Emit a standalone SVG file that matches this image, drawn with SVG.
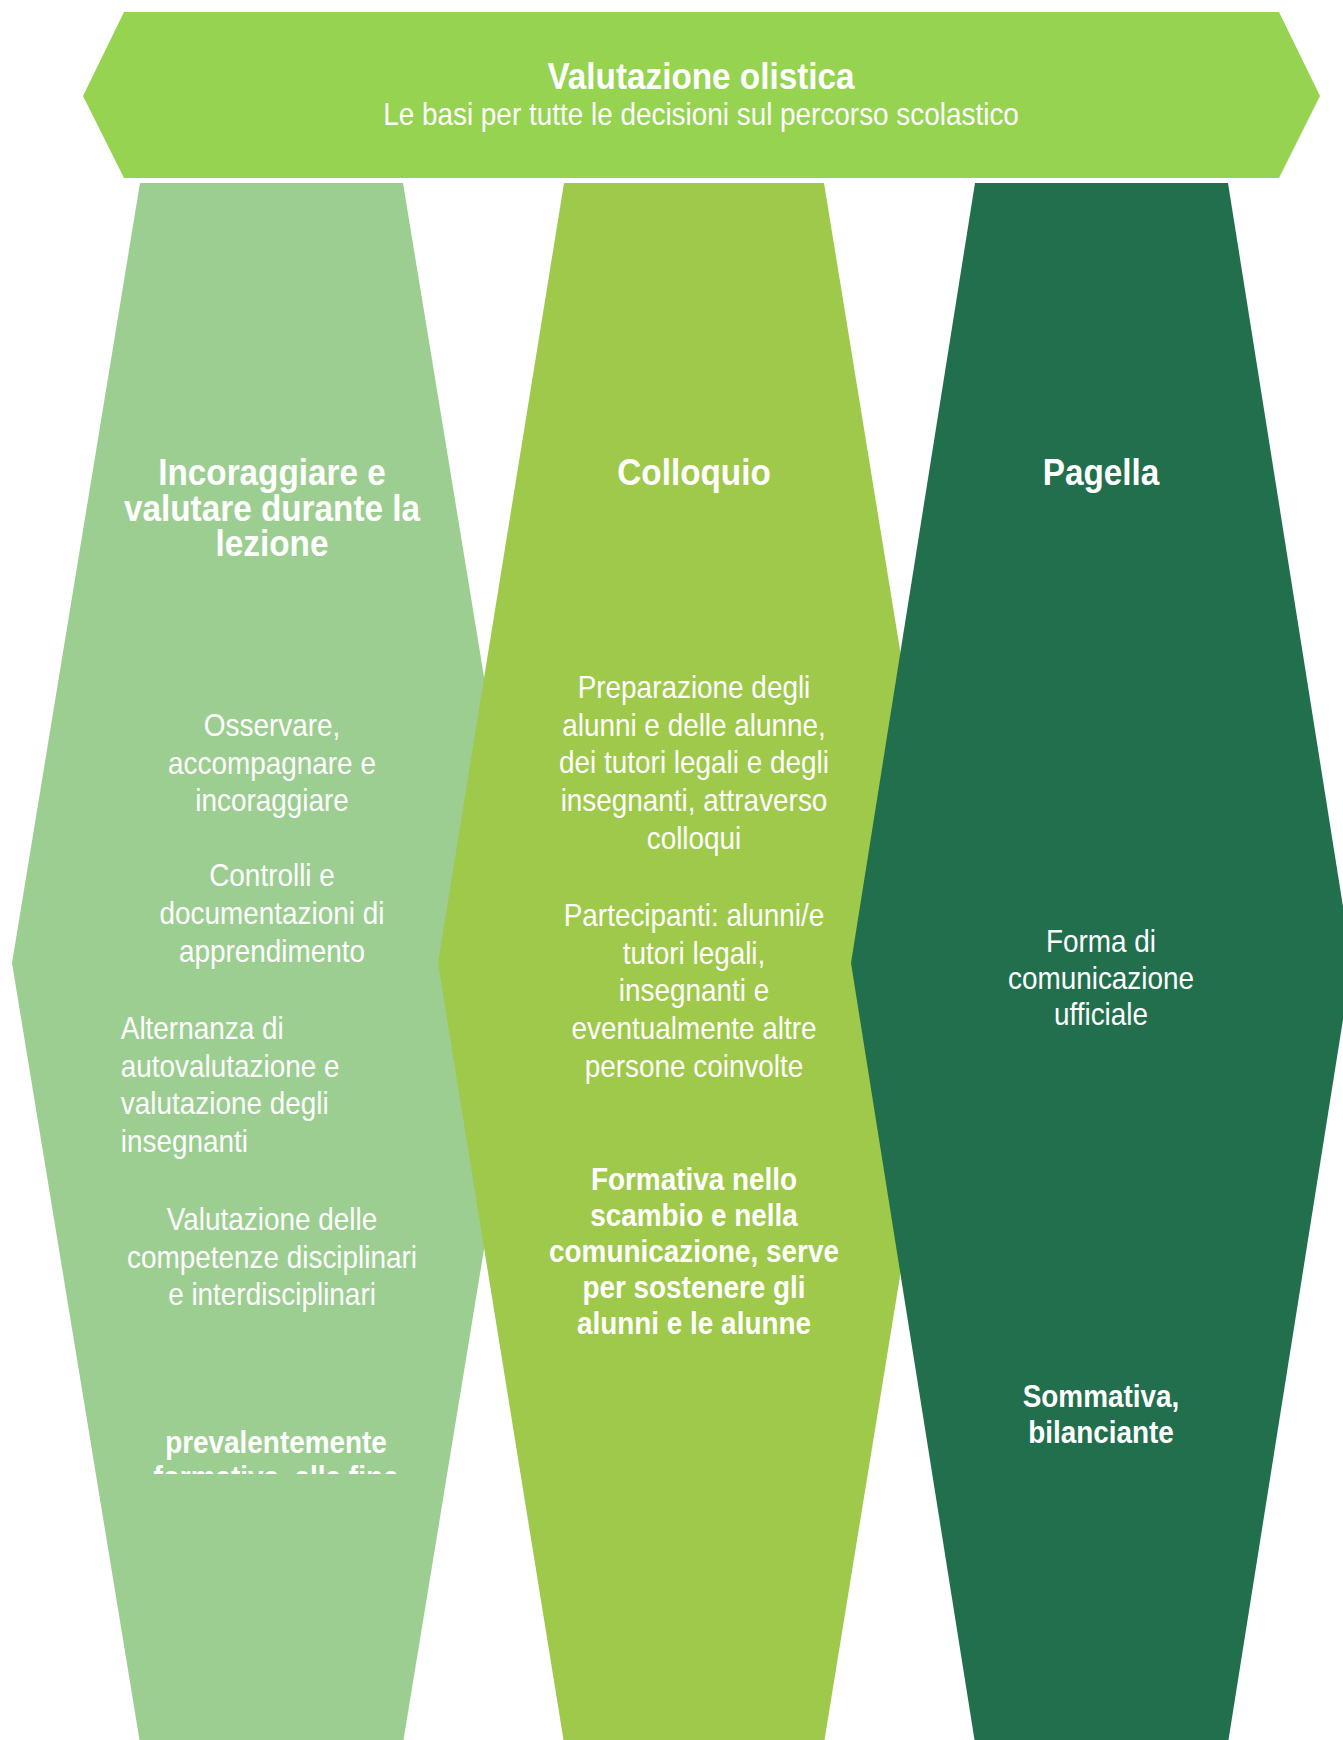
<svg xmlns="http://www.w3.org/2000/svg" width="1343" height="1740" viewBox="0 0 1343 1740">
  <style>
    text { font-family: "Liberation Sans", Arial, sans-serif; fill: #ffffff; }
    .title { font-size: 37px; font-weight: bold; text-anchor: middle; }
    .sub { font-size: 31px; text-anchor: middle; }
    .head { font-size: 37px; font-weight: bold; text-anchor: middle; }
    .body { font-size: 31px; text-anchor: middle; }
    .bodyl { font-size: 31px; text-anchor: start; }
    .bold { font-size: 31px; font-weight: bold; text-anchor: middle; }
    .banner { fill: #95D351; }
    .c1 { fill: #9DCE91; }
    .c2 { fill: #9FC94A; }
    .c3 { fill: #226F4E; }
  </style>
  <defs>
    <clipPath id="cutLeft">
      <rect x="0" y="0" width="1343" height="1474"/>
    </clipPath>
  </defs>
  <rect x="0" y="0" width="1343" height="1740" fill="#ffffff"/>

  <g id="banner">
    <polygon class="banner" points="124,12 1279,12 1320,96 1279,178 124,178 83,96"/>
    <g transform="translate(701,0) scale(0.9,1)">
      <text class="title" x="0" y="89">Valutazione olistica</text>
      <text class="sub" x="0" y="125">Le basi per tutte le decisioni sul percorso scolastico</text>
    </g>
  </g>

  <g id="col-left">
    <polygon class="c1" points="140,183 403,183 531,963 403,1743 140,1743 12,963"/>
    <g transform="translate(272,0) scale(0.9,1)">
      <text class="head" x="0" y="485">Incoraggiare e</text>
      <text class="head" x="0" y="521">valutare durante la</text>
      <text class="head" x="0" y="556">lezione</text>
      <text class="body" x="0" y="736">Osservare,</text>
      <text class="body" x="0" y="774">accompagnare e</text>
      <text class="body" x="0" y="811">incoraggiare</text>
      <text class="body" x="0" y="886">Controlli e</text>
      <text class="body" x="0" y="924">documentazioni di</text>
      <text class="body" x="0" y="962">apprendimento</text>
      <text class="bodyl" x="-168" y="1039">Alternanza di</text>
      <text class="bodyl" x="-168" y="1077">autovalutazione e</text>
      <text class="bodyl" x="-168" y="1114">valutazione degli</text>
      <text class="bodyl" x="-168" y="1152">insegnanti</text>
      <text class="body" x="0" y="1230">Valutazione delle</text>
      <text class="body" x="0" y="1268">competenze disciplinari</text>
      <text class="body" x="0" y="1305">e interdisciplinari</text>
    </g>
    <g clip-path="url(#cutLeft)">
      <g transform="translate(276,0) scale(0.9,1)">
        <text class="bold" x="0" y="1453">prevalentemente</text>
        <text class="bold" x="0" y="1488">formativa, alla fine</text>
      </g>
    </g>
  </g>

  <g id="col-middle">
    <polygon class="c2" points="564,183 824,183 951,963 824,1743 564,1743 438,963"/>
    <g transform="translate(694,0) scale(0.9,1)">
      <text class="head" x="0" y="485">Colloquio</text>
      <text class="body" x="0" y="698">Preparazione degli</text>
      <text class="body" x="0" y="736">alunni e delle alunne,</text>
      <text class="body" x="0" y="773">dei tutori legali e degli</text>
      <text class="body" x="0" y="811">insegnanti, attraverso</text>
      <text class="body" x="0" y="849">colloqui</text>
      <text class="body" x="0" y="926">Partecipanti: alunni/e</text>
      <text class="body" x="0" y="964">tutori legali,</text>
      <text class="body" x="0" y="1001">insegnanti e</text>
      <text class="body" x="0" y="1039">eventualmente altre</text>
      <text class="body" x="0" y="1077">persone coinvolte</text>
      <text class="bold" x="0" y="1190">Formativa nello</text>
      <text class="bold" x="0" y="1226">scambio e nella</text>
      <text class="bold" x="0" y="1262">comunicazione, serve</text>
      <text class="bold" x="0" y="1298">per sostenere gli</text>
      <text class="bold" x="0" y="1334">alunni e le alunne</text>
    </g>
  </g>

  <g id="col-right">
    <polygon class="c3" points="975,183 1228,183 1352,963 1228,1743 975,1743 851,963"/>
    <g transform="translate(1101,0) scale(0.9,1)">
      <text class="head" x="0" y="485">Pagella</text>
      <text class="body" x="0" y="952">Forma di</text>
      <text class="body" x="0" y="989">comunicazione</text>
      <text class="body" x="0" y="1025">ufficiale</text>
      <text class="bold" x="0" y="1407">Sommativa,</text>
      <text class="bold" x="0" y="1443">bilanciante</text>
    </g>
  </g>

  <g id="connectors"/>
</svg>
